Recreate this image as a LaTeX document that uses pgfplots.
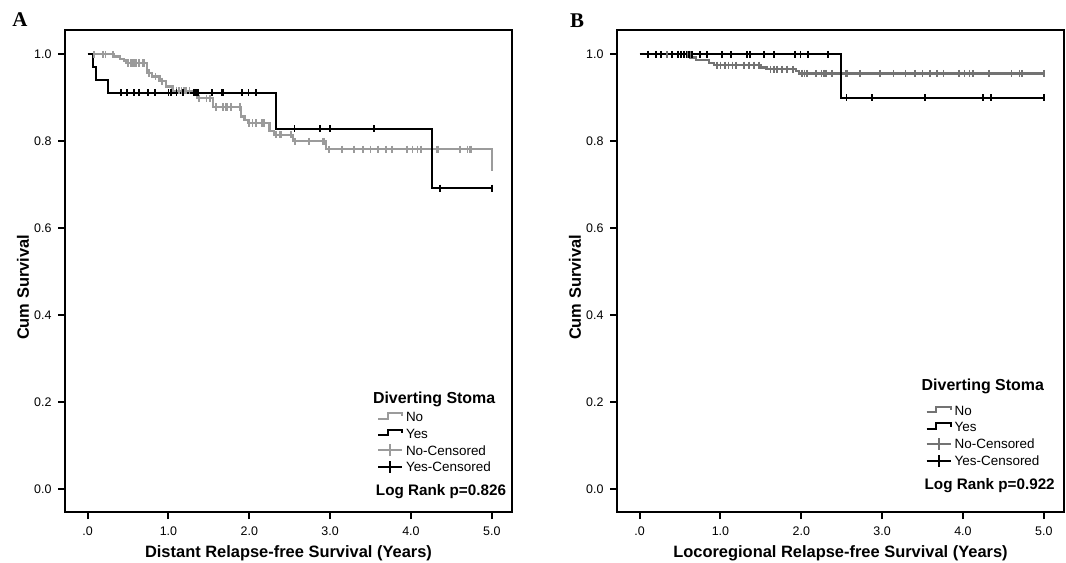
\documentclass[border=0pt]{standalone}
\usepackage{fontspec}
\setmainfont{Liberation Sans}
\newfontfamily\letterfont{Liberation Serif}
\usepackage{pgfplots}
\pgfplotsset{compat=1.18}
\definecolor{nograyA}{RGB}{155,155,155}
\definecolor{nograyB}{RGB}{115,115,115}

\pgfplotsset{
  kmaxis/.style={
    scale only axis, width=447bp, height=482bp, anchor=south west,
    xmin=-0.28, xmax=5.25, ymin=-0.052, ymax=1.056,
    axis line style={line width=2bp, black},
    tick pos=left, tick align=outside,
    major tick length=7bp,
    tick style={line width=2bp, black},
    xtick={0,1,2,3,4,5}, xticklabels={.0,1.0,2.0,3.0,4.0,5.0},
    ytick={0,0.2,0.4,0.6,0.8,1}, yticklabels={0.0,0.2,0.4,0.6,0.8,1.0},
    ticklabel style={font=\fontsize{12.5}{14}\selectfont},
    xticklabel style={yshift=-4bp},
    yticklabel style={xshift=-3bp},
    label style={font=\bfseries\fontsize{16.5}{19}\selectfont},
    ylabel={Cum Survival},
    ylabel style={at={(axis description cs:-0.094,0.466)}, anchor=center},
    xlabel style={at={(axis description cs:0.5,-0.085)}, anchor=center},
  },
  km/.style={const plot, line width=2.2bp, no marks},
  cens/.style={only marks, mark=|, mark size=3.6bp, mark options={line width=1.8bp}},
}

% legend block: #1,#2 = lower left of icons, #3 = colour of "No", #4 = p value, #5 = title height
\newcommand{\kmlegend}[5]{%
  \begin{scope}[shift={(#1,#2)}, line width=2bp]
    \node[anchor=west, inner sep=0, font=\bfseries\fontsize{16}{19}\selectfont] at (-6bp,#5) {Diverting Stoma};
    \draw[#3] (0bp,48.3bp) -- (9.6bp,48.3bp) -- (9.6bp,54bp) -- (24bp,54bp) -- (24bp,50.7bp);
    \draw[black] (0bp,31.6bp) -- (9.6bp,31.6bp) -- (9.6bp,37.3bp) -- (24bp,37.3bp) -- (24bp,34bp);
    \draw[#3] (0bp,16.7bp) -- (24bp,16.7bp) (12bp,10.7bp) -- (12bp,22.7bp);
    \draw[black] (0bp,0bp) -- (24bp,0bp) (12bp,-6bp) -- (12bp,6bp);
    \begin{scope}[every node/.style={anchor=west, inner sep=0, font=\fontsize{13.5}{16}\selectfont}]
      \node at (27bp,50bp) {No};
      \node at (27bp,33.3bp) {Yes};
      \node at (27bp,16.7bp) {No-Censored};
      \node at (27bp,0bp) {Yes-Censored};
    \end{scope}
    \node[anchor=east, inner sep=0, font=\bfseries\fontsize{15.3}{18}\selectfont] at (129bp,-25bp) {Log Rank p=#4};
  \end{scope}}

\begin{document}
\begin{tikzpicture}
\useasboundingbox (0,0) rectangle (1066bp,563bp);

% ---------- A: distant relapse-free survival ----------
\begin{axis}[kmaxis, at={(65bp,51bp)},
  xlabel={Distant Relapse-free Survival (Years)}]
\addplot[km, nograyA] coordinates {
  (0.04,1.0) (0.33,0.995) (0.40,0.990) (0.45,0.986) (0.48,0.980)
  (0.73,0.957) (0.80,0.949) (0.89,0.938) (0.97,0.926) (1.05,0.916)
  (1.32,0.907) (1.36,0.899) (1.55,0.879) (1.90,0.857) (1.94,0.850)
  (1.98,0.842) (2.25,0.823) (2.31,0.815) (2.54,0.800) (2.95,0.782)
  (5.0,0.739)};
\addplot[km, black] coordinates {
  (0,1.0) (0.07,0.971) (0.10,0.941) (0.25,0.912) (2.33,0.829)
  (4.26,0.692) (5.0,0.692)};
\addplot[cens, nograyA] coordinates {
  (0.08,1.0) (0.19,1.0) (0.22,1.0) (0.31,1.0)
  (0.50,0.980) (0.54,0.980) (0.56,0.980) (0.58,0.980) (0.60,0.980)
  (0.64,0.980) (0.68,0.980) (0.70,0.980)
  (0.76,0.957) (0.84,0.949) (0.92,0.938)
  (1.10,0.916) (1.13,0.916) (1.16,0.916) (1.19,0.916) (1.22,0.916) (1.26,0.916)
  (1.38,0.899) (1.47,0.899) (1.51,0.899)
  (1.59,0.879) (1.67,0.879) (1.71,0.879) (1.73,0.879) (1.77,0.879) (1.88,0.879)
  (2.00,0.842) (2.04,0.842) (2.08,0.842) (2.16,0.842) (2.18,0.842)
  (2.33,0.815) (2.38,0.815) (2.39,0.815) (2.52,0.815)
  (2.56,0.800) (2.57,0.800) (2.74,0.800) (2.91,0.800) (2.93,0.800)
  (2.99,0.782) (3.15,0.782) (3.30,0.782) (3.41,0.782) (3.50,0.782)
  (3.59,0.782) (3.69,0.782) (3.77,0.782) (3.95,0.782) (4.02,0.782)
  (4.08,0.782) (4.12,0.782) (4.32,0.782) (4.33,0.782) (4.61,0.782)
  (4.70,0.782) (4.73,0.782) (4.75,0.782)
  (5.0,0.739)};
\addplot[cens, black] coordinates {
  (0.41,0.912) (0.49,0.912) (0.57,0.912) (0.64,0.912) (0.75,0.912)
  (0.83,0.912) (1.00,0.912) (1.03,0.912) (1.10,0.912) (1.18,0.912)
  (1.32,0.912) (1.34,0.912) (1.37,0.912) (1.54,0.912) (1.66,0.912)
  (1.68,0.912) (1.91,0.912) (1.99,0.912) (2.08,0.912)
  (2.56,0.829) (2.87,0.829) (3.00,0.829) (3.54,0.829)
  (4.36,0.692) (5.0,0.692)};
\end{axis}

% ---------- B: locoregional relapse-free survival ----------
\begin{axis}[kmaxis, at={(617bp,51bp)},
  xlabel={Locoregional Relapse-free Survival (Years)}]
\addplot[km, nograyB] coordinates {
  (0.02,1.0) (0.63,0.993) (0.70,0.987) (0.86,0.980) (0.92,0.975)
  (1.50,0.970) (1.57,0.966) (1.93,0.961) (1.97,0.956) (5.0,0.956)};
\addplot[km, black] coordinates {
  (0,1.0) (2.49,0.900) (5.0,0.900)};
\addplot[cens, nograyB] coordinates {
  (0.10,1.0) (0.34,1.0) (0.59,1.0) (0.62,1.0)
  (0.96,0.975) (1.00,0.975) (1.06,0.975) (1.10,0.975) (1.15,0.975)
  (1.19,0.975) (1.29,0.975) (1.35,0.975) (1.41,0.975) (1.48,0.975)
  (1.62,0.966) (1.66,0.966) (1.70,0.966) (1.76,0.966) (1.82,0.966) (1.90,0.966)
  (2.01,0.956) (2.04,0.956) (2.07,0.956) (2.18,0.956) (2.25,0.956)
  (2.28,0.956) (2.31,0.956) (2.38,0.956) (2.55,0.956) (2.57,0.956)
  (2.73,0.956) (2.97,0.956) (3.14,0.956) (3.29,0.956) (3.41,0.956)
  (3.50,0.956) (3.59,0.956) (3.68,0.956) (3.76,0.956) (3.95,0.956)
  (4.02,0.956) (4.08,0.956) (4.12,0.956) (4.32,0.956) (4.60,0.956)
  (4.70,0.956) (4.73,0.956) (5.0,0.956)};
\addplot[cens, black] coordinates {
  (0.10,1.0) (0.20,1.0) (0.26,1.0) (0.40,1.0) (0.47,1.0) (0.51,1.0)
  (0.55,1.0) (0.58,1.0) (0.61,1.0) (0.65,1.0) (0.75,1.0) (0.83,1.0)
  (1.02,1.0) (1.13,1.0) (1.33,1.0) (1.37,1.0) (1.54,1.0) (1.66,1.0)
  (1.92,1.0) (1.99,1.0) (2.08,1.0) (2.33,1.0)
  (2.56,0.900) (2.87,0.900) (3.53,0.900) (4.25,0.900) (4.35,0.900) (5.0,0.900)};
\end{axis}

\kmlegend{378bp}{96bp}{nograyA}{0.826}{68bp}
\kmlegend{926.7bp}{102.3bp}{nograyB}{0.922}{74bp}

\node[font=\letterfont\bfseries\fontsize{21}{24}\selectfont] at (20bp,543bp) {A};
\node[font=\letterfont\bfseries\fontsize{21}{24}\selectfont] at (577bp,542bp) {B};
\end{tikzpicture}
\end{document}
